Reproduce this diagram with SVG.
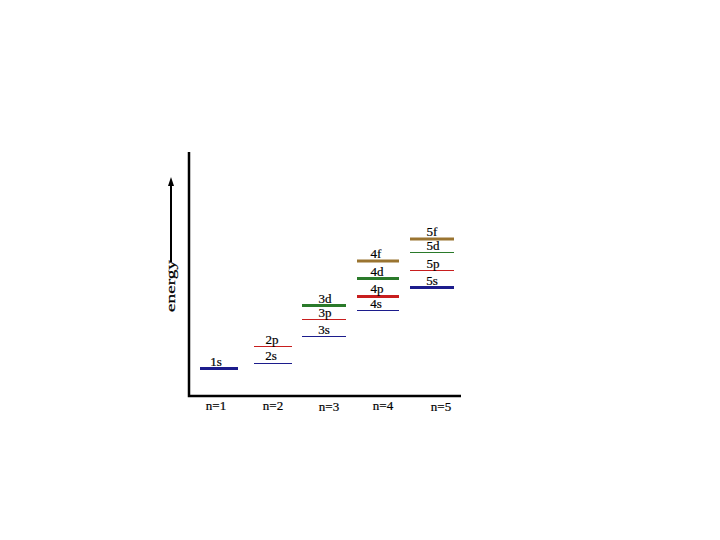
<svg xmlns="http://www.w3.org/2000/svg" width="720" height="540" viewBox="0 0 720 540">
<style>
text{font-family:"Liberation Serif","DejaVu Serif",serif;font-size:13px;fill:#000;stroke:#000;stroke-width:0.2;text-anchor:middle}
.b{stroke:#1c1c8c}
.r{stroke:#c81e1e}
.g{stroke:#2a7a2a}
.o{stroke:#9a7430}
.thin{stroke-width:1}
.thick{stroke-width:3}
</style>
<rect width="720" height="540" fill="#fff"/>
<g id="axes">
<path d="M189,152 V396 H461" fill="none" stroke="#000" stroke-width="2.5"/>
<line x1="171" y1="262" x2="171" y2="184" stroke="#000" stroke-width="2"/>
<path d="M171,177 L174,186 L168,186 Z" fill="#000"/>
<text transform="translate(175,286) rotate(-90)" font-size="17" textLength="52" lengthAdjust="spacingAndGlyphs">energy</text>
</g>
<g id="n1">
<line class="b thick" x1="200" y1="368.5" x2="238" y2="368.5"/>
<text x="216" y="366">1s</text>
<text x="216" y="410">n=1</text>
</g>
<g id="n2">
<line class="b thin" x1="254" y1="363.5" x2="292" y2="363.5"/>
<text x="271" y="360">2s</text>
<line class="r thin" x1="254" y1="346.5" x2="292" y2="346.5"/>
<text x="272" y="344">2p</text>
<text x="273" y="410">n=2</text>
</g>
<g id="n3">
<line class="b thin" x1="302" y1="336.5" x2="346" y2="336.5"/>
<text x="324" y="334">3s</text>
<line class="r thin" x1="302" y1="319.5" x2="346" y2="319.5"/>
<text x="325" y="317">3p</text>
<line class="g thick" x1="302" y1="305.5" x2="346" y2="305.5"/>
<text x="325" y="303">3d</text>
<text x="329" y="411">n=3</text>
</g>
<g id="n4">
<line class="b thin" x1="357" y1="310.5" x2="399" y2="310.5"/>
<text x="376" y="308">4s</text>
<line class="r thick" x1="357" y1="296.5" x2="399" y2="296.5"/>
<text x="377" y="293">4p</text>
<line class="g thick" x1="357" y1="278.5" x2="399" y2="278.5"/>
<text x="377" y="276">4d</text>
<line class="o thick" x1="357" y1="261" x2="399" y2="261"/>
<text x="376" y="258">4f</text>
<text x="383" y="410">n=4</text>
</g>
<g id="n5">
<line class="b thick" x1="410" y1="287.5" x2="454" y2="287.5"/>
<text x="432" y="285">5s</text>
<line class="r thin" x1="410" y1="270.5" x2="454" y2="270.5"/>
<text x="433" y="268">5p</text>
<line class="g thin" x1="410" y1="252.5" x2="454" y2="252.5"/>
<text x="433" y="250">5d</text>
<line class="o thick" x1="410" y1="239" x2="454" y2="239"/>
<text x="432" y="236">5f</text>
<text x="441" y="411">n=5</text>
</g>
</svg>
